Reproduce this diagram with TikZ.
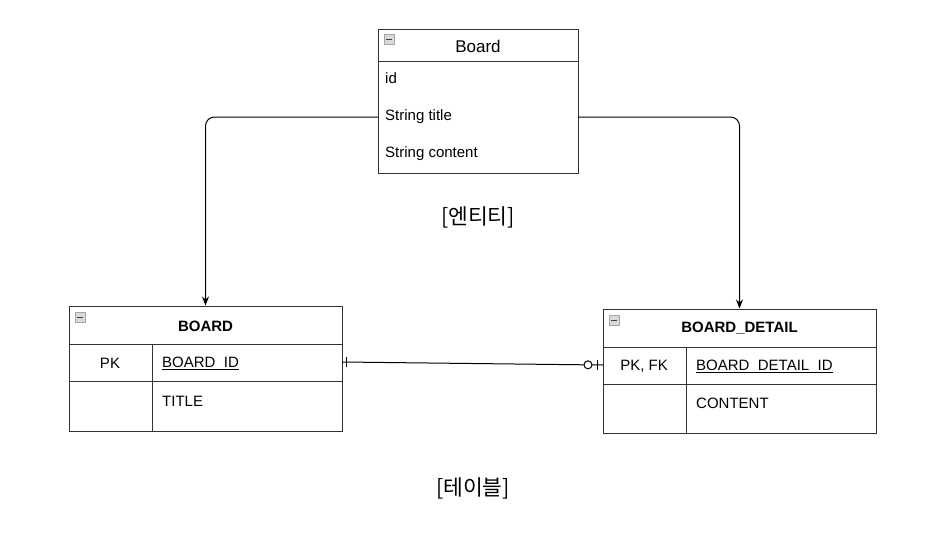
\documentclass[tikz,border=0pt]{standalone}
\usepackage{fontspec}
\setmainfont{Liberation Sans}
\newfontfamily\kor{Noto Sans CJK KR}
\usetikzlibrary{arrows.meta,calc}
\definecolor{edge}{HTML}{333333}
\newcommand\keyline[1]{\underline{\smash{#1}\vphantom{B}}}
\tikzset{
  tbl/.style={draw=edge, line width=1pt, fill=white, inner sep=0pt},
  sep/.style={draw=edge, line width=1pt},
  conn/.style={draw=black, line width=1pt, rounded corners=9pt, -{Stealth[length=9pt,width=7pt]}},
  rel/.style={draw=black, line width=1pt},
  txt/.style={font=\fontsize{15}{18}\selectfont, inner sep=0pt, anchor=west},
  ctxt/.style={font=\fontsize{15}{18}\selectfont, inner sep=0pt},
  head/.style={font=\fontsize{15}{18}\selectfont\bfseries, inner sep=0pt},
  caption/.style={font=\kor\fontsize{21.5}{24}\selectfont, inner sep=0pt},
  icon/.style={draw=gray!70, fill=gray!30, line width=0.8pt, minimum width=10pt, minimum height=10pt, inner sep=0pt},
  minus/.style={draw=black!75, line width=1.4pt},
}
\begin{document}
\begin{tikzpicture}[x=1pt,y=-1pt]
\useasboundingbox[fill=white] (0,0) rectangle (947,549);

% ---- Entity Board ----
\node[tbl, minimum width=200pt, minimum height=144pt] (ent) at (478,101) {};
\draw[sep] (378,61) -- (578,61);
\node[icon] (ei) at (389,39.5) {};
\draw[minus] (386,39.5) -- (392,39.5);
\node[font=\fontsize{17}{20}\selectfont, inner sep=0pt] (et) at (478,46) {Board};
\node[txt] (e1) at (385,78) {id};
\node[txt] (e2) at (385,116.5) {String title};
\node[txt] (e3) at (385,153.5) {String content};
\node[caption] (c1) at (478,217) {[엔티티]};

% ---- Table BOARD ----
\node[tbl, minimum width=273pt, minimum height=125pt] (board) at (205.5,368.5) {};
\draw[sep] (69,344) -- (342,344);
\draw[sep] (69,381) -- (342,381);
\draw[sep] (152,344) -- (152,431);
\node[icon] (bi) at (80,317.5) {};
\draw[minus] (77,317.5) -- (83,317.5);
\node[head] (bt) at (205.5,326.5) {BOARD};
\node[ctxt] (b1) at (110,363) {PK};
\node[txt] (b2) at (162,363.5) {\keyline{BOARD\_ID}};
\node[txt] (b3) at (162,401) {TITLE};

% ---- Table BOARD_DETAIL ----
\node[tbl, minimum width=273pt, minimum height=124pt] (det) at (739.5,371) {};
\draw[sep] (603,347) -- (876,347);
\draw[sep] (603,384) -- (876,384);
\draw[sep] (686,347) -- (686,433);
\node[icon] (di) at (614,320.5) {};
\draw[minus] (611,320.5) -- (617,320.5);
\node[head] (dt) at (739.5,328.5) {BOARD\_DETAIL};
\node[ctxt] (d1) at (644,366) {PK, FK};
\node[txt] (d2) at (696,366.5) {\keyline{BOARD\_DETAIL\_ID}};
\node[txt] (d3) at (696,403) {CONTENT};

\node[caption] (c2) at (473,488) {[테이블]};

% ---- connectors ----
\coordinate (eL) at (378,117);
\coordinate (eR) at (578,117);
\draw[conn] (eL) -| (board.north);
\draw[conn] (eR) -| (det.north);

\coordinate (r1) at (342,362);
\coordinate (r2) at (603,365);
\coordinate (rc) at (588,364.8);
\draw[rel] (r1) -- ($(rc)+(-4,0)$);
\draw[rel] ($(rc)+(4,0)$) -- (r2);
\draw[rel] (rc) circle (4pt);
\draw[rel] (346.5,357) -- (346.5,367);
\draw[rel] (597,360) -- (597,370);
\end{tikzpicture}
\end{document}
